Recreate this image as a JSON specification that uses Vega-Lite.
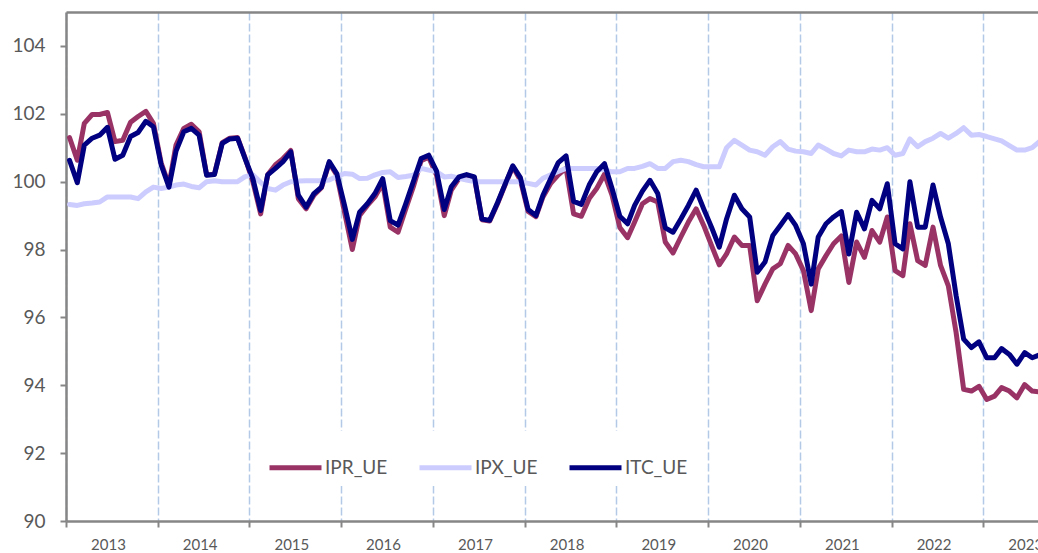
{
 "$schema": "https://vega.github.io/schema/vega-lite/v6.json",
 "width": 972, "height": 509,
 "autosize": {"type": "none"},
 "padding": {"left": 66, "top": 12, "right": 0, "bottom": 32},
 "background": "white",
 "config": {"view": {"stroke": null}, "font": "Lato"},
 "data": {
  "format": {"parse": {"d": "date:'%Y-%m-%d'"}},
  "values": [
{"d":"2013-01-15","IPR_UE":101.3,"IPX_UE":99.33,"ITC_UE":100.63},
{"d":"2013-02-15","IPR_UE":100.63,"IPX_UE":99.3,"ITC_UE":99.97},
{"d":"2013-03-15","IPR_UE":101.72,"IPX_UE":99.35,"ITC_UE":101.08},
{"d":"2013-04-15","IPR_UE":101.98,"IPX_UE":99.37,"ITC_UE":101.28},
{"d":"2013-05-15","IPR_UE":101.98,"IPX_UE":99.4,"ITC_UE":101.37},
{"d":"2013-06-15","IPR_UE":102.04,"IPX_UE":99.55,"ITC_UE":101.6},
{"d":"2013-07-15","IPR_UE":101.18,"IPX_UE":99.55,"ITC_UE":100.66},
{"d":"2013-08-15","IPR_UE":101.22,"IPX_UE":99.55,"ITC_UE":100.78},
{"d":"2013-09-15","IPR_UE":101.75,"IPX_UE":99.55,"ITC_UE":101.33},
{"d":"2013-10-15","IPR_UE":101.92,"IPX_UE":99.5,"ITC_UE":101.45},
{"d":"2013-11-15","IPR_UE":102.07,"IPX_UE":99.7,"ITC_UE":101.78},
{"d":"2013-12-15","IPR_UE":101.72,"IPX_UE":99.84,"ITC_UE":101.62},
{"d":"2014-01-15","IPR_UE":100.55,"IPX_UE":99.8,"ITC_UE":100.49},
{"d":"2014-02-15","IPR_UE":99.9,"IPX_UE":99.84,"ITC_UE":99.84},
{"d":"2014-03-15","IPR_UE":101.08,"IPX_UE":99.9,"ITC_UE":100.9},
{"d":"2014-04-15","IPR_UE":101.57,"IPX_UE":99.93,"ITC_UE":101.47},
{"d":"2014-05-15","IPR_UE":101.69,"IPX_UE":99.86,"ITC_UE":101.57},
{"d":"2014-06-15","IPR_UE":101.47,"IPX_UE":99.82,"ITC_UE":101.37},
{"d":"2014-07-15","IPR_UE":100.2,"IPX_UE":100.0,"ITC_UE":100.19},
{"d":"2014-08-15","IPR_UE":100.22,"IPX_UE":100.03,"ITC_UE":100.21},
{"d":"2014-09-15","IPR_UE":101.15,"IPX_UE":100.0,"ITC_UE":101.13},
{"d":"2014-10-15","IPR_UE":101.28,"IPX_UE":100.0,"ITC_UE":101.26},
{"d":"2014-11-15","IPR_UE":101.3,"IPX_UE":100.0,"ITC_UE":101.28},
{"d":"2014-12-15","IPR_UE":100.7,"IPX_UE":100.15,"ITC_UE":100.68},
{"d":"2015-01-15","IPR_UE":100.0,"IPX_UE":100.2,"ITC_UE":100.09},
{"d":"2015-02-15","IPR_UE":99.05,"IPX_UE":99.98,"ITC_UE":99.15},
{"d":"2015-03-15","IPR_UE":100.2,"IPX_UE":99.8,"ITC_UE":100.2},
{"d":"2015-04-15","IPR_UE":100.5,"IPX_UE":99.75,"ITC_UE":100.39},
{"d":"2015-05-15","IPR_UE":100.68,"IPX_UE":99.9,"ITC_UE":100.59},
{"d":"2015-06-15","IPR_UE":100.92,"IPX_UE":100.0,"ITC_UE":100.88},
{"d":"2015-07-15","IPR_UE":99.5,"IPX_UE":100.02,"ITC_UE":99.6},
{"d":"2015-08-15","IPR_UE":99.2,"IPX_UE":100.03,"ITC_UE":99.25},
{"d":"2015-09-15","IPR_UE":99.6,"IPX_UE":100.03,"ITC_UE":99.65},
{"d":"2015-10-15","IPR_UE":99.82,"IPX_UE":100.03,"ITC_UE":99.84},
{"d":"2015-11-15","IPR_UE":100.55,"IPX_UE":100.05,"ITC_UE":100.59},
{"d":"2015-12-15","IPR_UE":100.2,"IPX_UE":100.15,"ITC_UE":100.24},
{"d":"2016-01-15","IPR_UE":99.1,"IPX_UE":100.24,"ITC_UE":99.3},
{"d":"2016-02-15","IPR_UE":98.0,"IPX_UE":100.22,"ITC_UE":98.3},
{"d":"2016-03-15","IPR_UE":99.0,"IPX_UE":100.09,"ITC_UE":99.1},
{"d":"2016-04-15","IPR_UE":99.3,"IPX_UE":100.1,"ITC_UE":99.35},
{"d":"2016-05-15","IPR_UE":99.55,"IPX_UE":100.2,"ITC_UE":99.65},
{"d":"2016-06-15","IPR_UE":99.95,"IPX_UE":100.27,"ITC_UE":100.09},
{"d":"2016-07-15","IPR_UE":98.66,"IPX_UE":100.29,"ITC_UE":98.85},
{"d":"2016-08-15","IPR_UE":98.51,"IPX_UE":100.12,"ITC_UE":98.72},
{"d":"2016-09-15","IPR_UE":99.2,"IPX_UE":100.15,"ITC_UE":99.35},
{"d":"2016-10-15","IPR_UE":99.85,"IPX_UE":100.19,"ITC_UE":100.0},
{"d":"2016-11-15","IPR_UE":100.62,"IPX_UE":100.39,"ITC_UE":100.68},
{"d":"2016-12-15","IPR_UE":100.72,"IPX_UE":100.34,"ITC_UE":100.78},
{"d":"2017-01-15","IPR_UE":100.2,"IPX_UE":100.3,"ITC_UE":100.32},
{"d":"2017-02-15","IPR_UE":99.0,"IPX_UE":100.14,"ITC_UE":99.18},
{"d":"2017-03-15","IPR_UE":99.75,"IPX_UE":100.16,"ITC_UE":99.85},
{"d":"2017-04-15","IPR_UE":100.1,"IPX_UE":100.1,"ITC_UE":100.14},
{"d":"2017-05-15","IPR_UE":100.18,"IPX_UE":100.05,"ITC_UE":100.21},
{"d":"2017-06-15","IPR_UE":100.12,"IPX_UE":100.0,"ITC_UE":100.14},
{"d":"2017-07-15","IPR_UE":98.88,"IPX_UE":100.0,"ITC_UE":98.9},
{"d":"2017-08-15","IPR_UE":98.84,"IPX_UE":100.0,"ITC_UE":98.86},
{"d":"2017-09-15","IPR_UE":99.35,"IPX_UE":100.0,"ITC_UE":99.38},
{"d":"2017-10-15","IPR_UE":99.9,"IPX_UE":100.0,"ITC_UE":99.92},
{"d":"2017-11-15","IPR_UE":100.44,"IPX_UE":100.0,"ITC_UE":100.47},
{"d":"2017-12-15","IPR_UE":100.05,"IPX_UE":100.0,"ITC_UE":100.12},
{"d":"2018-01-15","IPR_UE":99.12,"IPX_UE":99.95,"ITC_UE":99.18},
{"d":"2018-02-15","IPR_UE":98.97,"IPX_UE":99.9,"ITC_UE":99.0},
{"d":"2018-03-15","IPR_UE":99.55,"IPX_UE":100.1,"ITC_UE":99.6},
{"d":"2018-04-15","IPR_UE":99.95,"IPX_UE":100.2,"ITC_UE":100.09},
{"d":"2018-05-15","IPR_UE":100.2,"IPX_UE":100.3,"ITC_UE":100.56},
{"d":"2018-06-15","IPR_UE":100.4,"IPX_UE":100.39,"ITC_UE":100.76},
{"d":"2018-07-15","IPR_UE":99.05,"IPX_UE":100.39,"ITC_UE":99.42},
{"d":"2018-08-15","IPR_UE":98.98,"IPX_UE":100.39,"ITC_UE":99.33},
{"d":"2018-09-15","IPR_UE":99.5,"IPX_UE":100.39,"ITC_UE":99.9},
{"d":"2018-10-15","IPR_UE":99.8,"IPX_UE":100.39,"ITC_UE":100.29},
{"d":"2018-11-15","IPR_UE":100.22,"IPX_UE":100.35,"ITC_UE":100.53},
{"d":"2018-12-15","IPR_UE":99.6,"IPX_UE":100.29,"ITC_UE":99.8},
{"d":"2019-01-15","IPR_UE":98.65,"IPX_UE":100.29,"ITC_UE":98.98},
{"d":"2019-02-15","IPR_UE":98.35,"IPX_UE":100.39,"ITC_UE":98.76},
{"d":"2019-03-15","IPR_UE":98.81,"IPX_UE":100.39,"ITC_UE":99.3},
{"d":"2019-04-15","IPR_UE":99.35,"IPX_UE":100.45,"ITC_UE":99.72},
{"d":"2019-05-15","IPR_UE":99.5,"IPX_UE":100.53,"ITC_UE":100.04},
{"d":"2019-06-15","IPR_UE":99.4,"IPX_UE":100.39,"ITC_UE":99.65},
{"d":"2019-07-15","IPR_UE":98.22,"IPX_UE":100.39,"ITC_UE":98.64},
{"d":"2019-08-15","IPR_UE":97.9,"IPX_UE":100.59,"ITC_UE":98.51},
{"d":"2019-09-15","IPR_UE":98.37,"IPX_UE":100.63,"ITC_UE":98.9},
{"d":"2019-10-15","IPR_UE":98.81,"IPX_UE":100.59,"ITC_UE":99.3},
{"d":"2019-11-15","IPR_UE":99.2,"IPX_UE":100.5,"ITC_UE":99.75},
{"d":"2019-12-15","IPR_UE":98.71,"IPX_UE":100.44,"ITC_UE":99.2},
{"d":"2020-01-15","IPR_UE":98.12,"IPX_UE":100.44,"ITC_UE":98.66},
{"d":"2020-02-15","IPR_UE":97.55,"IPX_UE":100.44,"ITC_UE":98.07},
{"d":"2020-03-15","IPR_UE":97.87,"IPX_UE":101.0,"ITC_UE":98.9},
{"d":"2020-04-15","IPR_UE":98.37,"IPX_UE":101.22,"ITC_UE":99.6},
{"d":"2020-05-15","IPR_UE":98.12,"IPX_UE":101.08,"ITC_UE":99.2},
{"d":"2020-06-15","IPR_UE":98.12,"IPX_UE":100.93,"ITC_UE":98.96},
{"d":"2020-07-15","IPR_UE":96.49,"IPX_UE":100.88,"ITC_UE":97.33},
{"d":"2020-08-15","IPR_UE":96.98,"IPX_UE":100.78,"ITC_UE":97.63},
{"d":"2020-09-15","IPR_UE":97.43,"IPX_UE":101.03,"ITC_UE":98.41},
{"d":"2020-10-15","IPR_UE":97.58,"IPX_UE":101.18,"ITC_UE":98.71},
{"d":"2020-11-15","IPR_UE":98.12,"IPX_UE":100.96,"ITC_UE":99.03},
{"d":"2020-12-15","IPR_UE":97.87,"IPX_UE":100.9,"ITC_UE":98.71},
{"d":"2021-01-15","IPR_UE":97.38,"IPX_UE":100.88,"ITC_UE":98.17},
{"d":"2021-02-15","IPR_UE":96.2,"IPX_UE":100.83,"ITC_UE":96.98},
{"d":"2021-03-15","IPR_UE":97.43,"IPX_UE":101.08,"ITC_UE":98.37},
{"d":"2021-04-15","IPR_UE":97.82,"IPX_UE":100.96,"ITC_UE":98.76},
{"d":"2021-05-15","IPR_UE":98.17,"IPX_UE":100.83,"ITC_UE":98.96},
{"d":"2021-06-15","IPR_UE":98.4,"IPX_UE":100.76,"ITC_UE":99.12},
{"d":"2021-07-15","IPR_UE":97.03,"IPX_UE":100.93,"ITC_UE":97.87},
{"d":"2021-08-15","IPR_UE":98.22,"IPX_UE":100.88,"ITC_UE":99.1},
{"d":"2021-09-15","IPR_UE":97.77,"IPX_UE":100.88,"ITC_UE":98.61},
{"d":"2021-10-15","IPR_UE":98.56,"IPX_UE":100.96,"ITC_UE":99.45},
{"d":"2021-11-15","IPR_UE":98.22,"IPX_UE":100.93,"ITC_UE":99.2},
{"d":"2021-12-15","IPR_UE":98.96,"IPX_UE":101.0,"ITC_UE":99.94},
{"d":"2022-01-15","IPR_UE":97.38,"IPX_UE":100.78,"ITC_UE":98.17},
{"d":"2022-02-15","IPR_UE":97.23,"IPX_UE":100.83,"ITC_UE":98.02},
{"d":"2022-03-15","IPR_UE":98.76,"IPX_UE":101.26,"ITC_UE":100.0},
{"d":"2022-04-15","IPR_UE":97.67,"IPX_UE":101.03,"ITC_UE":98.66},
{"d":"2022-05-15","IPR_UE":97.53,"IPX_UE":101.18,"ITC_UE":98.66},
{"d":"2022-06-15","IPR_UE":98.66,"IPX_UE":101.28,"ITC_UE":99.9},
{"d":"2022-07-15","IPR_UE":97.53,"IPX_UE":101.42,"ITC_UE":98.96},
{"d":"2022-08-15","IPR_UE":96.93,"IPX_UE":101.28,"ITC_UE":98.17},
{"d":"2022-09-15","IPR_UE":95.55,"IPX_UE":101.42,"ITC_UE":96.64},
{"d":"2022-10-15","IPR_UE":93.88,"IPX_UE":101.59,"ITC_UE":95.36},
{"d":"2022-11-15","IPR_UE":93.83,"IPX_UE":101.37,"ITC_UE":95.11},
{"d":"2022-12-15","IPR_UE":93.97,"IPX_UE":101.39,"ITC_UE":95.28},
{"d":"2023-01-15","IPR_UE":93.58,"IPX_UE":101.33,"ITC_UE":94.81},
{"d":"2023-02-15","IPR_UE":93.68,"IPX_UE":101.26,"ITC_UE":94.81},
{"d":"2023-03-15","IPR_UE":93.93,"IPX_UE":101.2,"ITC_UE":95.08},
{"d":"2023-04-15","IPR_UE":93.83,"IPX_UE":101.06,"ITC_UE":94.91},
{"d":"2023-05-15","IPR_UE":93.63,"IPX_UE":100.93,"ITC_UE":94.62},
{"d":"2023-06-15","IPR_UE":94.02,"IPX_UE":100.93,"ITC_UE":94.96},
{"d":"2023-07-15","IPR_UE":93.83,"IPX_UE":101.0,"ITC_UE":94.81},
{"d":"2023-08-15","IPR_UE":93.8,"IPX_UE":101.2,"ITC_UE":94.9}
  ]
 },
 "transform": [{"fold": ["IPR_UE", "IPX_UE", "ITC_UE"], "as": ["serie", "valeur"]}],
 "resolve": {"axis": {"x": "independent"}},
 "layer": [
  {
   "mark": {"type": "line", "strokeWidth": 5, "strokeJoin": "round", "strokeCap": "round", "clip": true},
   "encoding": {
    "x": {
     "field": "d", "type": "temporal",
     "scale": {"domain": [{"year": 2013, "month": 1, "date": 1}, {"year": 2023, "month": 8, "date": 7}]},
     "axis": {
      "orient": "bottom", "title": null, "format": "%Y",
      "values": [{"year": 2013, "month": 1, "date": 1}, {"year": 2014, "month": 1, "date": 1}, {"year": 2015, "month": 1, "date": 1}, {"year": 2016, "month": 1, "date": 1}, {"year": 2017, "month": 1, "date": 1}, {"year": 2018, "month": 1, "date": 1}, {"year": 2019, "month": 1, "date": 1}, {"year": 2020, "month": 1, "date": 1}, {"year": 2021, "month": 1, "date": 1}, {"year": 2022, "month": 1, "date": 1}, {"year": 2023, "month": 1, "date": 1}],
      "labelOffset": 42, "labelFlush": false, "labelOverlap": false, "labelBound": false,
      "labelFontSize": 15, "labelColor": "#595959", "labelPadding": 10,
      "tickSize": 6, "tickWidth": 2, "tickColor": "#868686",
      "domainColor": "#868686", "domainWidth": 2.5,
      "grid": true, "gridColor": "#b4c9e6", "gridDash": [8, 3], "gridWidth": 1.5
     }
    },
    "y": {
     "field": "valeur", "type": "quantitative",
     "scale": {"domain": [90, 105], "nice": false, "zero": false},
     "axis": {
      "title": null, "values": [90, 92, 94, 96, 98, 100, 102, 104], "grid": false,
      "labelFontSize": 19, "labelColor": "#595959", "labelPadding": 15,
      "tickSize": 6, "tickWidth": 2, "tickColor": "#868686",
      "domainColor": "#868686", "domainWidth": 2.5
     }
    },
    "color": {
     "field": "serie", "type": "nominal",
     "scale": {"domain": ["IPR_UE", "IPX_UE", "ITC_UE"], "range": ["#993366", "#ccccff", "#000080"]},
     "legend": {
      "orient": "none", "legendX": 193, "legendY": 419, "direction": "horizontal", "title": null,
      "symbolType": "stroke", "symbolSize": 2704, "symbolStrokeWidth": 5,
      "labelFontSize": 19, "labelColor": "#595959", "labelOffset": 1,
      "columnPadding": 21, "fillColor": "white", "padding": 8
     }
    }
   }
  },
  {
   "mark": {"type": "point", "opacity": 0},
   "encoding": {
    "x": {
     "field": "d", "type": "temporal",
     "axis": {"orient": "top", "title": null, "labels": false, "ticks": false, "grid": false, "domainColor": "#868686", "domainWidth": 2.5}
    }
   }
  }
 ]
}
